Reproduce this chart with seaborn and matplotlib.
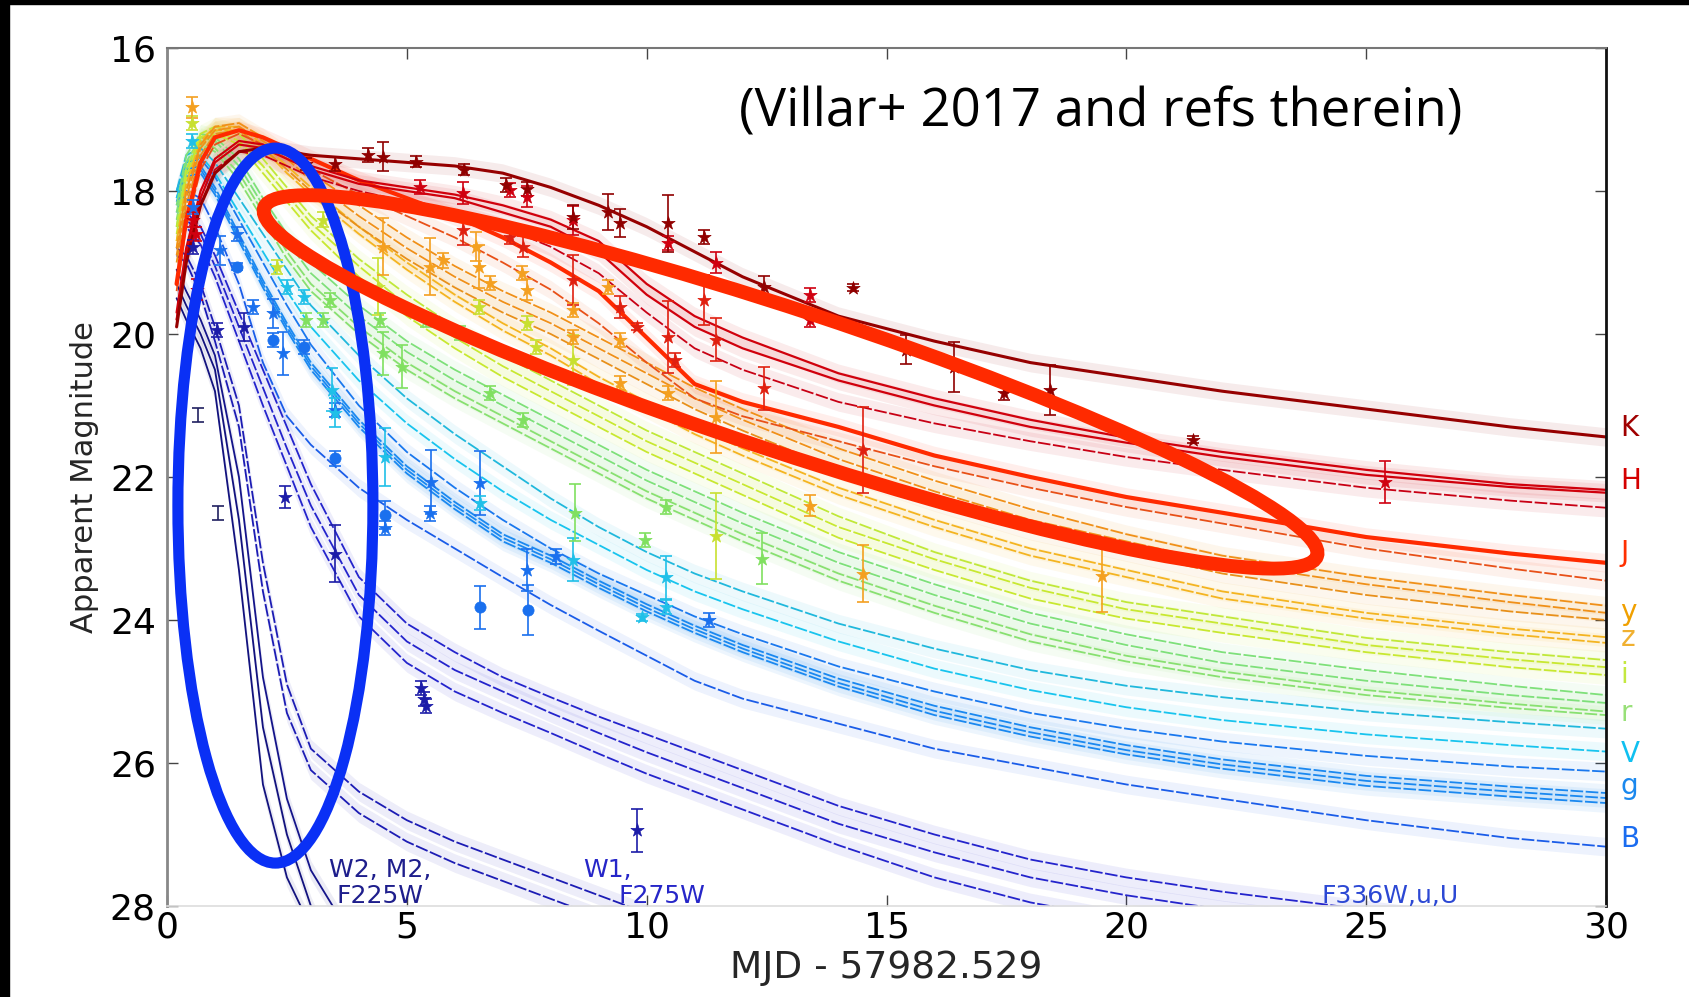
import numpy as np
import pandas as pd
import matplotlib
matplotlib.use("Agg")
import matplotlib.pyplot as plt
import matplotlib.transforms as mtransforms
from matplotlib.patches import Ellipse, Rectangle
import seaborn as sns

nan = np.nan

# Epochs (days since MJD 57982.529) at which each model light curve is tabulated
T = [0.2, 0.4, 0.7, 1.0, 1.5, 2.0, 2.5, 3.0, 4.0, 5.0, 6.0, 7.0, 8.0, 9.0,
     10.0, 11.0, 12.0, 14.0, 16.0, 18.0, 20.0, 22.0, 25.0, 28.0, 30.0]

# Model light curves (apparent magnitude), one list per filter realisation
K_mod = [19.9, 19.0, 18.2, 17.75, 17.45, 17.4, 17.45, 17.5, 17.55, 17.6, 17.65, 17.75, 17.95, 18.2, 18.5, 18.85, 19.2, 19.75, 20.1, 20.4, 20.6, 20.8, 21.05, 21.3, 21.44]
H1_mod = [19.7, 18.8, 18.0, 17.55, 17.3, 17.35, 17.5, 17.65, 17.85, 17.95, 18.05, 18.2, 18.4, 18.7, 19.3, 19.75, 20.05, 20.55, 20.9, 21.2, 21.45, 21.65, 21.9, 22.1, 22.18]
H2_mod = [19.8, 18.9, 18.1, 17.6, 17.35, 17.4, 17.55, 17.7, 17.9, 18.0, 18.1, 18.3, 18.5, 18.85, 19.45, 19.9, 20.2, 20.65, 21.0, 21.3, 21.52, 21.72, 21.97, 22.14, 22.22]
H3_mod = [19.8, 19.0, 18.2, 17.7, 17.45, 17.5, 17.65, 17.8, 18.0, 18.15, 18.3, 18.5, 18.78, 19.15, 19.7, 20.2, 20.5, 20.95, 21.25, 21.5, 21.72, 21.9, 22.15, 22.33, 22.43]
J1_mod = [19.3, 18.4, 17.6, 17.25, 17.15, 17.25, 17.4, 17.55, 17.85, 18.1, 18.35, 18.65, 19.0, 19.4, 20.05, 20.7, 20.95, 21.3, 21.7, 22.0, 22.28, 22.5, 22.84, 23.07, 23.2]
J2_mod = [19.4, 18.5, 17.7, 17.35, 17.2, 17.35, 17.55, 17.7, 18.05, 18.35, 18.65, 19.0, 19.38, 19.85, 20.4, 20.9, 21.15, 21.5, 21.85, 22.15, 22.42, 22.65, 23.0, 23.28, 23.45]
y1_mod = [18.8, 18.0, 17.35, 17.1, 17.05, 17.25, 17.5, 17.75, 18.2, 18.65, 19.05, 19.4, 19.7, 20.05, 20.4, 20.75, 21.05, 21.6, 22.05, 22.45, 22.8, 23.1, 23.4, 23.65, 23.8]
y2_mod = [18.9, 18.1, 17.4, 17.15, 17.1, 17.3, 17.55, 17.85, 18.35, 18.8, 19.2, 19.55, 19.85, 20.2, 20.55, 20.9, 21.2, 21.75, 22.2, 22.6, 22.9, 23.2, 23.5, 23.75, 23.9]
y3_mod = [19.0, 18.2, 17.5, 17.2, 17.15, 17.4, 17.7, 18.0, 18.5, 18.95, 19.35, 19.7, 20.0, 20.35, 20.7, 21.05, 21.35, 21.9, 22.35, 22.75, 23.05, 23.35, 23.65, 23.88, 24.0]
z1_mod = [18.7, 17.9, 17.3, 17.1, 17.1, 17.35, 17.65, 17.95, 18.5, 19.0, 19.45, 19.85, 20.2, 20.6, 20.95, 21.3, 21.6, 22.15, 22.6, 23.0, 23.3, 23.6, 23.9, 24.12, 24.24]
z2_mod = [18.8, 18.0, 17.35, 17.15, 17.15, 17.4, 17.75, 18.05, 18.6, 19.1, 19.55, 19.95, 20.3, 20.7, 21.05, 21.4, 21.7, 22.25, 22.7, 23.1, 23.4, 23.7, 23.98, 24.2, 24.32]
i1_mod = [18.5, 17.7, 17.2, 17.1, 17.2, 17.55, 17.95, 18.35, 18.95, 19.45, 19.9, 20.3, 20.65, 21.0, 21.35, 21.65, 21.95, 22.55, 23.05, 23.45, 23.75, 23.95, 24.25, 24.45, 24.56]
i2_mod = [18.6, 17.8, 17.25, 17.15, 17.3, 17.65, 18.05, 18.45, 19.05, 19.6, 20.05, 20.45, 20.8, 21.15, 21.5, 21.8, 22.1, 22.7, 23.15, 23.55, 23.85, 24.05, 24.35, 24.55, 24.66]
i3_mod = [18.7, 17.9, 17.3, 17.2, 17.35, 17.75, 18.15, 18.55, 19.2, 19.75, 20.2, 20.6, 20.95, 21.3, 21.65, 21.95, 22.25, 22.85, 23.3, 23.7, 23.98, 24.18, 24.45, 24.66, 24.77]
r1_mod = [18.2, 17.5, 17.2, 17.25, 17.55, 18.1, 18.6, 19.0, 19.6, 20.1, 20.5, 20.85, 21.2, 21.55, 21.9, 22.2, 22.5, 23.05, 23.5, 23.9, 24.2, 24.45, 24.7, 24.92, 25.05]
r2_mod = [18.3, 17.6, 17.25, 17.3, 17.65, 18.2, 18.7, 19.15, 19.75, 20.25, 20.65, 21.0, 21.35, 21.7, 22.05, 22.35, 22.65, 23.2, 23.65, 24.05, 24.35, 24.6, 24.85, 25.05, 25.16]
r3_mod = [18.4, 17.7, 17.3, 17.4, 17.75, 18.3, 18.85, 19.3, 19.9, 20.4, 20.8, 21.15, 21.5, 21.85, 22.2, 22.5, 22.8, 23.35, 23.8, 24.2, 24.5, 24.72, 24.98, 25.17, 25.28]
r4_mod = [18.5, 17.75, 17.35, 17.45, 17.85, 18.4, 18.95, 19.4, 20.0, 20.5, 20.9, 21.25, 21.6, 21.95, 22.3, 22.6, 22.9, 23.45, 23.9, 24.3, 24.58, 24.8, 25.05, 25.23, 25.33]
V1_mod = [18.0, 17.5, 17.4, 17.6, 18.1, 18.6, 19.1, 19.6, 20.3, 20.9, 21.4, 21.85, 22.3, 22.7, 23.05, 23.35, 23.6, 24.05, 24.4, 24.7, 24.92, 25.08, 25.28, 25.43, 25.52]
V2_mod = [18.1, 17.6, 17.5, 17.75, 18.3, 18.85, 19.4, 19.9, 20.65, 21.25, 21.75, 22.2, 22.6, 22.95, 23.3, 23.6, 23.85, 24.3, 24.68, 24.98, 25.22, 25.4, 25.6, 25.75, 25.84]
g0_mod = [18.0, 17.6, 17.55, 17.8, 18.4, 19.0, 19.6, 20.15, 21.0, 21.65, 22.15, 22.6, 23.0, 23.35, 23.65, 23.95, 24.2, 24.65, 25.0, 25.3, 25.52, 25.7, 25.9, 26.05, 26.12]
g1_mod = [18.1, 17.7, 17.65, 17.95, 18.6, 19.25, 19.85, 20.4, 21.2, 21.85, 22.35, 22.8, 23.1, 23.45, 23.78, 24.08, 24.35, 24.82, 25.2, 25.5, 25.75, 25.95, 26.18, 26.33, 26.42]
g2_mod = [18.15, 17.75, 17.7, 18.0, 18.65, 19.3, 19.9, 20.45, 21.25, 21.9, 22.4, 22.85, 23.15, 23.5, 23.83, 24.13, 24.4, 24.88, 25.27, 25.57, 25.82, 26.02, 26.25, 26.4, 26.49]
g3_mod = [18.2, 17.8, 17.75, 18.05, 18.7, 19.35, 19.95, 20.5, 21.3, 21.95, 22.45, 22.9, 23.2, 23.55, 23.88, 24.18, 24.45, 24.93, 25.33, 25.63, 25.88, 26.08, 26.32, 26.47, 26.56]
B_mod = [18.3, 18.0, 18.1, 18.5, 19.3, 20.4, 21.15, 21.55, 22.15, 22.6, 23.0, 23.4, 23.79, 24.15, 24.5, 24.85, 25.1, 25.45, 25.8, 26.05, 26.3, 26.5, 26.8, 27.05, 27.17]
U1_mod = [18.4, 18.3, 18.5, 18.9, 19.7, 20.5, 21.3, 22.1, 23.4, 24.05, 24.45, 24.8, 25.08, 25.35, 25.6, 25.85, 26.1, 26.6, 27.0, 27.35, 27.6, 27.8, 28.05, 28.3, nan]
U2_mod = [18.5, 18.4, 18.6, 19.05, 19.9, 20.75, 21.6, 22.4, 23.65, 24.3, 24.7, 25.0, 25.3, 25.58, 25.85, 26.1, 26.35, 26.85, 27.25, 27.6, 27.85, 28.05, 28.3, nan, nan]
U3_mod = [18.6, 18.5, 18.75, 19.2, 20.1, 21.0, 21.85, 22.7, 23.95, 24.6, 25.0, 25.3, 25.58, 25.87, 26.15, 26.4, 26.65, 27.15, 27.6, 27.95, 28.2, nan, nan, nan, nan]
W1a_mod = [18.8, 18.9, 19.3, 19.9, 21.0, 23.2, 24.9, 25.8, 26.4, 26.8, 27.1, 27.35, 27.6, 27.85, 28.1, nan, nan, nan, nan, nan, nan, nan, nan, nan, nan]
W1b_mod = [18.9, 19.0, 19.45, 20.1, 21.3, 23.6, 25.3, 26.1, 26.7, 27.1, 27.4, 27.65, 27.9, 28.15, nan, nan, nan, nan, nan, nan, nan, nan, nan, nan, nan]
W2a_mod = [19.5, 19.8, 20.2, 20.8, 23.3, 26.3, 27.6, 28.3, nan, nan, nan, nan, nan, nan, nan, nan, nan, nan, nan, nan, nan, nan, nan, nan, nan]
W2b_mod = [19.3, 19.6, 20.0, 20.5, 22.6, 25.5, 27.0, 28.0, 29.5, nan, nan, nan, nan, nan, nan, nan, nan, nan, nan, nan, nan, nan, nan, nan, nan]
W2c_mod = [19.1, 19.4, 19.8, 20.3, 22.0, 24.8, 26.5, 27.5, 28.6, nan, nan, nan, nan, nan, nan, nan, nan, nan, nan, nan, nan, nan, nan, nan, nan]

# Photometry: epoch, magnitude, 1-sigma error per filter group
K_t = [2.9, 3.5, 4.2, 4.5, 5.2, 6.2, 7.06, 7.5, 8.46, 9.2, 9.44, 10.45, 11.2, 12.45, 14.3, 15.4, 16.4, 17.45, 18.4, 21.4]
K_m = [17.62, 17.62, 17.5, 17.52, 17.59, 17.7, 17.92, 17.97, 18.36, 18.29, 18.45, 18.45, 18.64, 19.34, 19.35, 20.22, 20.46, 20.83, 20.78, 21.48]
K_e = [0.08, 0.1, 0.1, 0.2, 0.08, 0.08, 0.1, 0.1, 0.17, 0.25, 0.2, 0.4, 0.1, 0.15, 0.05, 0.2, 0.35, 0.1, 0.35, 0.05]
H_t = [0.55, 0.6, 0.62, 5.27, 6.17, 7.15, 7.5, 8.46, 10.45, 11.45, 13.4, 13.4, 25.4]
H_m = [18.4, 18.6, 19.38, 17.94, 18.03, 17.99, 18.08, 18.41, 18.73, 19.0, 19.45, 19.8, 22.07]
H_e = [0.1, 0.1, 0.15, 0.1, 0.15, 0.1, 0.15, 0.2, 0.1, 0.15, 0.1, 0.1, 0.3]
J_t = [6.17, 7.15, 7.42, 8.46, 9.44, 9.8, 10.45, 10.6, 11.2, 11.45, 12.45, 14.5]
J_m = [18.55, 18.64, 18.78, 19.24, 19.62, 19.9, 20.04, 20.36, 19.52, 20.08, 20.76, 21.62]
J_e = [0.2, 0.1, 0.15, 0.35, 0.15, 0.05, 0.5, 0.1, 0.35, 0.3, 0.3, 0.6]
Y_t = [0.52, 4.5, 5.48, 5.75, 6.45, 6.5, 6.73, 7.4, 7.5, 8.46, 8.46, 9.2, 9.44, 9.44, 10.45, 11.45, 13.4, 14.5, 19.5]
Y_m = [16.83, 18.78, 19.06, 18.97, 18.78, 19.06, 19.29, 19.15, 19.38, 19.66, 20.04, 19.34, 20.08, 20.69, 20.83, 21.16, 22.4, 23.35, 23.39]
Y_e = [0.15, 0.4, 0.4, 0.1, 0.2, 0.3, 0.1, 0.1, 0.15, 0.1, 0.1, 0.1, 0.1, 0.1, 0.1, 0.5, 0.15, 0.4, 0.5]
I_t = [0.52, 2.3, 3.25, 4.4, 6.5, 7.5, 7.7, 8.46, 11.45]
I_m = [17.05, 19.06, 18.4, 19.34, 19.62, 19.85, 20.18, 20.36, 22.83]
I_e = [0.1, 0.1, 0.1, 0.4, 0.1, 0.1, 0.1, 0.35, 0.6]
R_t = [2.9, 3.25, 3.4, 4.44, 4.5, 4.9, 5.4, 6.1, 6.73, 7.42, 8.5, 9.97, 10.4, 12.4]
R_m = [19.8, 19.8, 19.52, 19.8, 20.27, 20.46, 19.8, 19.99, 20.83, 21.2, 22.5, 22.88, 22.42, 23.14]
R_e = [0.1, 0.1, 0.1, 0.1, 0.3, 0.3, 0.1, 0.1, 0.1, 0.1, 0.4, 0.1, 0.1, 0.35]
V_t = [0.52, 2.5, 2.85, 3.43, 3.5, 4.54, 6.52, 8.46, 9.9, 10.4, 10.4]
V_m = [17.3, 19.34, 19.48, 20.78, 21.1, 21.72, 22.36, 23.16, 23.96, 23.4, 23.82]
V_e = [0.1, 0.1, 0.1, 0.3, 0.2, 0.4, 0.1, 0.3, 0.05, 0.3, 0.1]
G_t = [0.55, 1.1, 1.45, 1.8, 2.2, 2.42, 3.5, 4.54, 5.5, 5.48, 6.52, 7.5, 8.1, 11.3]
G_m = [18.22, 18.83, 18.6, 19.62, 19.71, 20.27, 21.06, 22.71, 22.07, 22.51, 22.08, 23.3, 23.11, 24.0]
G_e = [0.1, 0.2, 0.1, 0.1, 0.2, 0.3, 0.1, 0.1, 0.45, 0.1, 0.45, 0.3, 0.1, 0.1]
Gc_t = [1.45, 2.2, 2.85, 3.5, 4.54, 6.52, 7.52]
Gc_m = [19.06, 20.08, 20.18, 21.74, 22.53, 23.82, 23.86]
Gc_e = [0.05, 0.1, 0.1, 0.1, 0.2, 0.3, 0.35]
N_t = [0.55, 1.04, 1.6, 2.46, 3.5, 5.3, 5.35, 5.4, 9.8]
N_m = [18.78, 19.94, 19.9, 22.28, 23.07, 24.95, 25.1, 25.2, 26.94]
N_e = [0.1, 0.1, 0.2, 0.15, 0.4, 0.1, 0.1, 0.1, 0.3]
Nb_t = [0.65, 1.06]
Nb_m = [21.13, 22.5]
Nb_e = [0.1, 0.1]

# Filter labels on the right-hand side
band_names = ["K", "H", "J", "y", "z", "i", "r", "V", "g", "B"]
band_label_mag = [21.31, 22.06, 23.06, 23.89, 24.25, 24.77, 25.3, 25.87, 26.32, 27.06]
band_label_col = ["#a00000", "#d40000", "#ff3000", "#f0a000", "#f0b030", "#c4e840",
                  "#98e078", "#10c0f0", "#1a88ee", "#1a6cf0"]

DASH = (0, (7, 1.4))
curves = [
    (W2a_mod, "#12127e", 1.3, "-"), (W2b_mod, "#12127e", 1.3, "-"), (W2c_mod, "#14148a", 1.3, "-"),
    (W1a_mod, "#1c1cb4", 1.3, DASH), (W1b_mod, "#1c1cb4", 1.3, DASH),
    (U1_mod, "#2424cc", 1.3, DASH), (U2_mod, "#2424cc", 1.3, DASH), (U3_mod, "#2424cc", 1.3, DASH),
    (B_mod, "#1a5ce8", 1.3, DASH),
    (g0_mod, "#1a78ee", 1.3, DASH), (g1_mod, "#1a88f0", 1.3, DASH),
    (g2_mod, "#1a88f0", 1.3, DASH), (g3_mod, "#1a88f0", 1.3, DASH),
    (V1_mod, "#20b8dc", 1.3, DASH), (V2_mod, "#18c4ee", 1.3, DASH),
    (r1_mod, "#7ee07a", 1.3, DASH), (r2_mod, "#7ee07a", 1.3, DASH),
    (r3_mod, "#88e070", 1.3, DASH), (r4_mod, "#88e070", 1.3, DASH),
    (i1_mod, "#c0e838", 1.3, DASH), (i2_mod, "#c8e830", 1.3, DASH), (i3_mod, "#c8e830", 1.3, DASH),
    (z1_mod, "#f4b420", 1.3, DASH), (z2_mod, "#f4b420", 1.3, DASH),
    (y1_mod, "#f09018", 1.3, DASH), (y2_mod, "#f09018", 1.3, DASH), (y3_mod, "#e8901a", 1.3, DASH),
    (J2_mod, "#e85018", 1.3, DASH), (J1_mod, "#ff2a00", 3.0, "-"),
    (H3_mod, "#c80014", 1.3, DASH), (H2_mod, "#d0000c", 1.6, "-"), (H1_mod, "#d0000c", 1.6, "-"),
    (K_mod, "#960000", 2.2, "-"),
]

points = [
    (N_t, N_m, N_e, "#1c1ca8", "*"), (G_t, G_m, G_e, "#1a70ee", "*"),
    (Gc_t, Gc_m, Gc_e, "#1a70ee", "o"), (V_t, V_m, V_e, "#20c0e8", "*"),
    (R_t, R_m, R_e, "#80e060", "*"), (I_t, I_m, I_e, "#c8e030", "*"),
    (Y_t, Y_m, Y_e, "#f4a020", "*"), (J_t, J_m, J_e, "#e02010", "*"),
    (H_t, H_m, H_e, "#d00010", "*"), (K_t, K_m, K_e, "#900000", "*"),
]

sns.set_theme(style="white")
plt.rcParams["font.family"] = ["DejaVu Sans"]

fig = plt.figure(figsize=(16.89, 9.97), dpi=100)
ax = fig.add_axes([167 / 1689, 1 - 906 / 997, 1439 / 1689, 858 / 997])

t_arr = np.array(T)
for vals, col, lw, ls in curves:
    m = np.array(vals, dtype=float)
    ok = ~np.isnan(m)
    ax.fill_between(t_arr[ok], m[ok] - 0.13, m[ok] + 0.13, color=col, alpha=0.08, lw=0, zorder=1)
    df = pd.DataFrame({"t": t_arr[ok], "mag": m[ok]})
    sns.lineplot(data=df, x="t", y="mag", color=col, lw=lw, linestyle=ls,
                 estimator=None, sort=False, ax=ax, zorder=2)

for tt, mm, ee, col, mk in points:
    ax.errorbar(tt, mm, yerr=ee, fmt="none", ecolor=col, elinewidth=1.2,
                capsize=4, capthick=1.2, zorder=3)
    sns.scatterplot(x=tt, y=mm, color=col, marker=mk, s=100 if mk == "*" else 65,
                    edgecolor=col, linewidth=0.5, ax=ax, zorder=4, legend=False)
ax.errorbar(Nb_t, Nb_m, yerr=Nb_e, fmt="none", ecolor="#202060", elinewidth=1.2,
            capsize=4, capthick=1.2, zorder=3)

ax.set_xlim(0, 30)
ax.set_ylim(28, 16)
ax.set_xticks([0, 5, 10, 15, 20, 25, 30])
ax.set_yticks([16, 18, 20, 22, 24, 26, 28])
ax.tick_params(axis="both", direction="in", length=8, width=1, labelsize=26,
               colors="#444444", labelcolor="black",
               top=True, right=True, bottom=True, left=True)
ax.tick_params(axis="x", pad=3)
ax.tick_params(axis="y", pad=8)
ax.set_xlabel("MJD - 57982.529", fontsize=27, labelpad=4)
ax.set_ylabel("Apparent Magnitude", fontsize=22, labelpad=8)
for side, col, w in [("left", "#888888", 2.0), ("top", "#777777", 1.5),
                     ("right", "#111111", 2.0), ("bottom", "#dddddd", 1.2)]:
    ax.spines[side].set_color(col)
    ax.spines[side].set_linewidth(w)

for name, mag, col in zip(band_names, band_label_mag, band_label_col):
    ax.text(30.3, mag, name, color=col, fontsize=20, ha="left", va="center", clip_on=False)

uv_kw = dict(fontsize=18, ha="center", va="center")
ax.text(4.44, 27.5, "W2, M2,", color="#1e1e8c", **uv_kw)
ax.text(4.44, 27.86, "F225W", color="#1e1e8c", **uv_kw)
ax.text(9.19, 27.5, "W1,", color="#2626c8", **uv_kw)
ax.text(10.31, 27.86, "F275W", color="#2626c8", **uv_kw)
ax.text(25.5, 27.86, "F336W,u,U", color="#2c48d4", **uv_kw)

ax.text(19.46, 16.9, "(Villar+ 2017 and refs therein)", fontsize=38,
        family=["Open Sans", "DejaVu Sans"], ha="center", va="center", color="black")

# Highlight rings drawn in screen inches, anchored at a data point
def ring(t0, m0, w_px, h_px, angle, col, lw):
    trans = fig.dpi_scale_trans + mtransforms.ScaledTranslation(t0, m0, ax.transData)
    e = Ellipse((0, 0), w_px / 100, h_px / 100, angle=angle, transform=trans,
                fill=False, edgecolor=col, lw=lw, zorder=6, clip_on=False)
    ax.add_patch(e)

ring(2.26, 22.40, 195, 715, 0, "#0a30f5", 8)
ring(13.0, 20.67, 1109, 142, -18.3, "#ff2a00", 10)

fig.patches.append(Rectangle((0, 0), 9 / 1689, 1, transform=fig.transFigure,
                             color="black", zorder=0))
fig.patches.append(Rectangle((0, 1 - 4 / 997), 1, 4 / 997, transform=fig.transFigure,
                             color="black", zorder=0))

fig.savefig("out.png", dpi=100, facecolor="white")
